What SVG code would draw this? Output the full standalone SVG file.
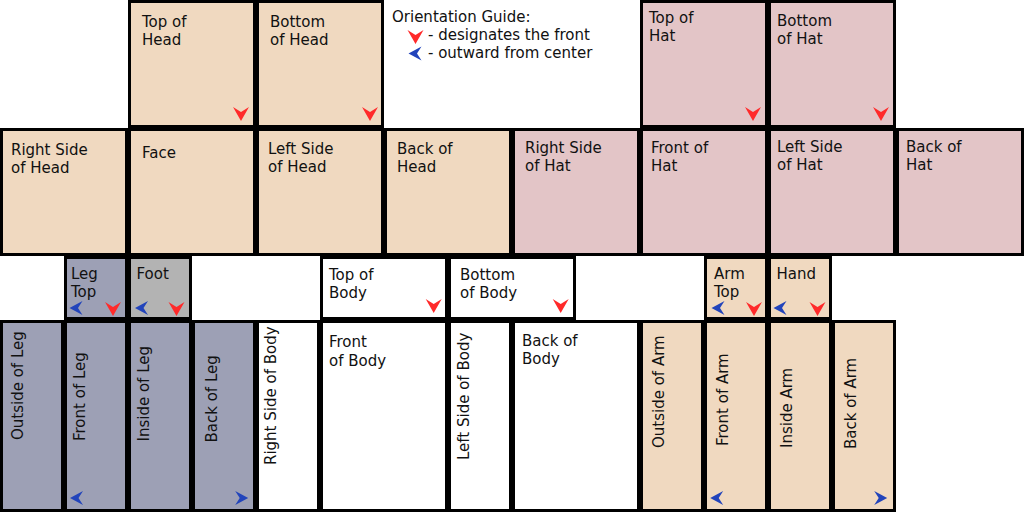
<svg xmlns="http://www.w3.org/2000/svg" xmlns:xlink="http://www.w3.org/1999/xlink" width="1024" height="512" viewBox="0 0 1024 512">
<style>
.b{stroke:#000;stroke-width:3}
.skin{fill:#f0d9c0}
.hat{fill:#e3c5c7}
.leg{fill:#9da0b5}
.foot{fill:#b3b3b3}
.body{fill:#ffffff}
text{font-family:"DejaVu Sans","Liberation Sans",sans-serif;font-size:15px;fill:#111}
</style>
<defs>
<path id="dn" d="M-8,-7 L0,-2 L8,-7 L0,7 Z" fill="#ff2a2a"/>
<path id="lf" d="M-6.5,0 L6.5,-7 L2,0 L6.5,7 Z" fill="#2244bb"/>
<path id="rt" d="M6.5,0 L-6.5,-7 L-2,0 L-6.5,7 Z" fill="#2244bb"/>
</defs>
<rect width="1024" height="512" fill="#fff"/>

<g id="legend">
<text x="392" y="22">Orientation Guide:</text>
<use xlink:href="#dn" x="415.5" y="37"/>
<text x="428" y="40">- designates the front</text>
<use xlink:href="#lf" x="415" y="53.5"/>
<text x="428" y="58">- outward from center</text>
</g>

<g id="top-of-head"><rect class="b skin" x="129.5" y="1.5" width="125" height="125"/><text x="142" y="27">Top of</text><text x="142" y="45">Head</text><use xlink:href="#dn" x="241" y="114"/></g>
<g id="bottom-of-head"><rect class="b skin" x="257.5" y="1.5" width="125" height="125"/><text x="270" y="27">Bottom</text><text x="270" y="45">of Head</text><use xlink:href="#dn" x="370" y="114"/></g>
<g id="top-of-hat"><rect class="b hat" x="641.5" y="1.5" width="125" height="125"/><text x="649" y="23">Top of</text><text x="649" y="41">Hat</text><use xlink:href="#dn" x="753" y="114"/></g>
<g id="bottom-of-hat"><rect class="b hat" x="769.5" y="1.5" width="125" height="125"/><text x="777" y="26">Bottom</text><text x="777" y="44">of Hat</text><use xlink:href="#dn" x="881" y="114"/></g>

<g id="right-side-of-head"><rect class="b skin" x="1.5" y="129.5" width="125" height="125"/><text x="11" y="155">Right Side</text><text x="11" y="173">of Head</text></g>
<g id="face"><rect class="b skin" x="129.5" y="129.5" width="125" height="125"/><text x="142" y="158">Face</text></g>
<g id="left-side-of-head"><rect class="b skin" x="257.5" y="129.5" width="125" height="125"/><text x="268" y="154">Left Side</text><text x="268" y="172">of Head</text></g>
<g id="back-of-head"><rect class="b skin" x="385.5" y="129.5" width="125" height="125"/><text x="397" y="154">Back of</text><text x="397" y="172">Head</text></g>
<g id="right-side-of-hat"><rect class="b hat" x="513.5" y="129.5" width="125" height="125"/><text x="525" y="153">Right Side</text><text x="525" y="171">of Hat</text></g>
<g id="front-of-hat"><rect class="b hat" x="641.5" y="129.5" width="125" height="125"/><text x="651" y="153">Front of</text><text x="651" y="171">Hat</text></g>
<g id="left-side-of-hat"><rect class="b hat" x="769.5" y="129.5" width="125" height="125"/><text x="777" y="152">Left Side</text><text x="777" y="170">of Hat</text></g>
<g id="back-of-hat"><rect class="b hat" x="897.5" y="129.5" width="125" height="125"/><text x="906" y="152">Back of</text><text x="906" y="170">Hat</text></g>

<g id="leg-top"><rect class="b leg" x="65.5" y="257.5" width="61" height="61"/><text x="71" y="279">Leg</text><text x="71" y="297">Top</text><use xlink:href="#lf" x="76" y="308"/><use xlink:href="#dn" x="113" y="309"/></g>
<g id="foot"><rect class="b foot" x="129.5" y="257.5" width="61" height="61"/><text x="136.5" y="279">Foot</text><use xlink:href="#lf" x="141.5" y="308"/><use xlink:href="#dn" x="176.5" y="309"/></g>
<g id="top-of-body"><rect class="b body" x="321.5" y="257.5" width="125" height="61"/><text x="329" y="280">Top of</text><text x="329" y="298">Body</text><use xlink:href="#dn" x="433.7" y="306"/></g>
<g id="bottom-of-body"><rect class="b body" x="449.5" y="257.5" width="125" height="61"/><text x="460" y="280">Bottom</text><text x="460" y="298">of Body</text><use xlink:href="#dn" x="560.7" y="306"/></g>
<g id="arm-top"><rect class="b skin" x="705.5" y="257.5" width="61" height="61"/><text x="714" y="279">Arm</text><text x="714" y="297">Top</text><use xlink:href="#lf" x="718" y="308"/><use xlink:href="#dn" x="754" y="309"/></g>
<g id="hand"><rect class="b skin" x="769.5" y="257.5" width="61" height="61"/><text x="776.5" y="279">Hand</text><use xlink:href="#lf" x="780" y="308"/><use xlink:href="#dn" x="817.5" y="309"/></g>

<g id="outside-of-leg"><rect class="b leg" x="1.5" y="321.5" width="61" height="189"/><text transform="translate(23,440) rotate(-90)">Outside of Leg</text></g>
<g id="front-of-leg"><rect class="b leg" x="65.5" y="321.5" width="61" height="189"/><text transform="translate(85,441) rotate(-90)">Front of Leg</text><use xlink:href="#lf" x="76.5" y="498"/></g>
<g id="inside-of-leg"><rect class="b leg" x="129.5" y="321.5" width="61" height="189"/><text transform="translate(149,441.5) rotate(-90)">Inside of Leg</text></g>
<g id="back-of-leg"><rect class="b leg" x="193.5" y="321.5" width="61" height="189"/><text transform="translate(217,442.5) rotate(-90)">Back of Leg</text><use xlink:href="#rt" x="241.7" y="498"/></g>
<g id="right-side-of-body"><rect class="b body" x="257.5" y="321.5" width="61" height="189"/><text transform="translate(276,465) rotate(-90)">Right Side of Body</text></g>
<g id="front-of-body"><rect class="b body" x="321.5" y="321.5" width="125" height="189"/><text x="329" y="347">Front</text><text x="329" y="366">of Body</text></g>
<g id="left-side-of-body"><rect class="b body" x="449.5" y="321.5" width="61" height="189"/><text transform="translate(469,460) rotate(-90)">Left Side of Body</text></g>
<g id="back-of-body"><rect class="b body" x="513.5" y="321.5" width="125" height="189"/><text x="522" y="346">Back of</text><text x="522" y="364">Body</text></g>
<g id="outside-of-arm"><rect class="b skin" x="641.5" y="321.5" width="61" height="189"/><text transform="translate(664,448) rotate(-90)">Outside of Arm</text></g>
<g id="front-of-arm"><rect class="b skin" x="705.5" y="321.5" width="61" height="189"/><text transform="translate(728,446) rotate(-90)">Front of Arm</text><use xlink:href="#lf" x="716.7" y="498"/></g>
<g id="inside-arm"><rect class="b skin" x="769.5" y="321.5" width="61" height="189"/><text transform="translate(792,448) rotate(-90)">Inside Arm</text></g>
<g id="back-of-arm"><rect class="b skin" x="833.5" y="321.5" width="61" height="189"/><text transform="translate(856,449) rotate(-90)">Back of Arm</text><use xlink:href="#rt" x="880.7" y="498"/></g>

<g id="connectors"></g>
</svg>
